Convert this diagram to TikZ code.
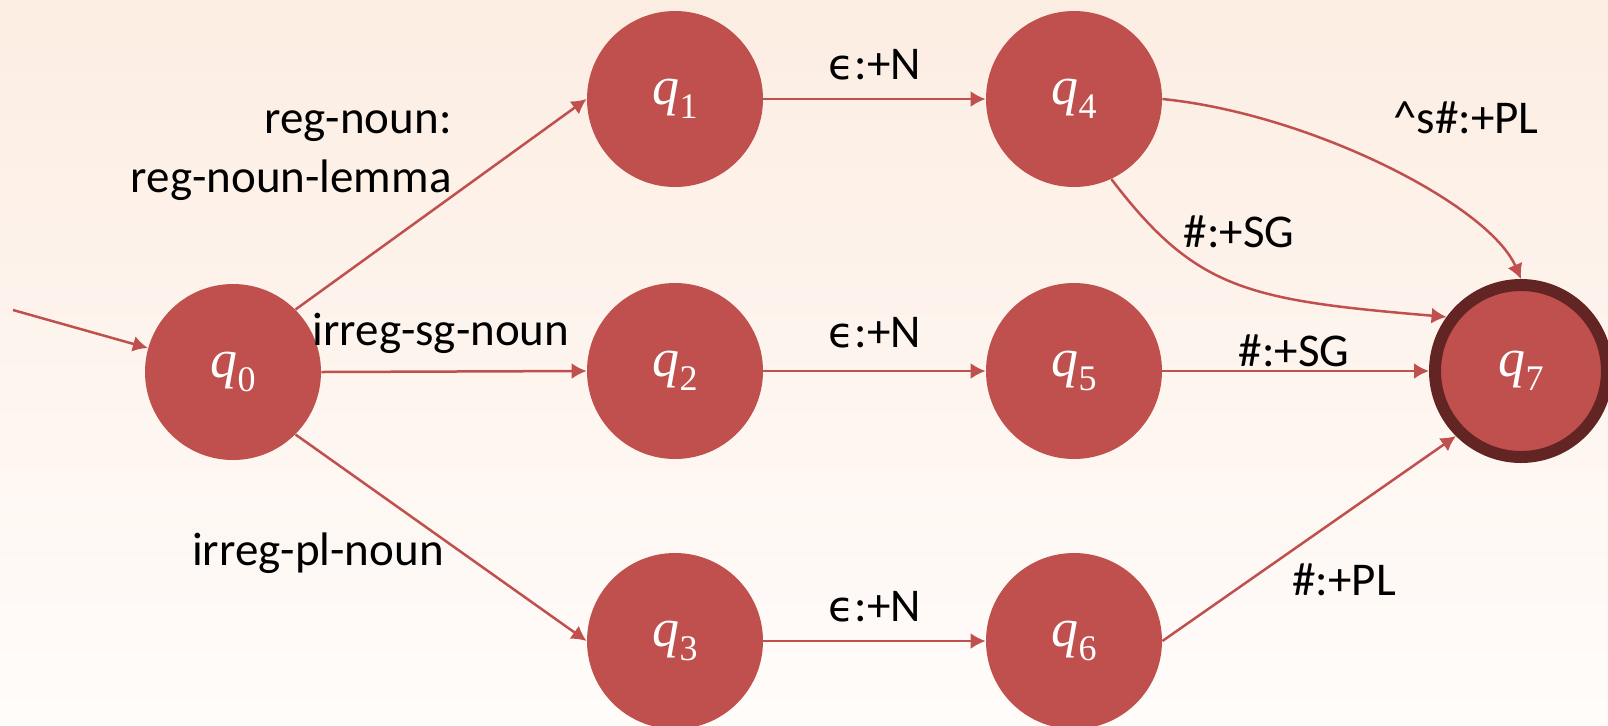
\documentclass[tikz,border=0pt]{standalone}
\usepackage{fontspec}
\setmainfont{Carlito}
\newfontfamily\qfont{Liberation Serif}
\newfontfamily\epsfont{DejaVu Sans}
\usetikzlibrary{arrows.meta}
\definecolor{nodered}{HTML}{C0504D}
\definecolor{ringred}{HTML}{632523}
\definecolor{bgtop}{HTML}{FCEDE2}
\definecolor{bgbot}{HTML}{FFFCFA}
\newcommand{\stq}[1]{{\qfont\itshape q}\raisebox{-0.25em}{\qfont\fontsize{18}{20}\selectfont #1}}
\newcommand{\eps}{{\epsfont\fontsize{21}{25}\selectfont ϵ}}
\begin{document}
\begin{tikzpicture}[x=0.5pt,y=-0.5pt,
  state/.style={circle,fill=nodered,minimum size=88pt,inner sep=0pt,text=white,font=\fontsize{27}{30}\selectfont},
  accept/.style={state,draw=ringred,line width=6pt,minimum size=86pt},
  lbl/.style={font=\fontsize{23.5}{29.5}\selectfont,text=black,inner sep=0pt},
  tr/.style={draw=nodered,line width=1.25pt,-{Latex[length=7.5pt,width=8pt]}}
]
\shade[top color=bgtop,bottom color=bgbot] (0,0) rectangle (1608,725);
\useasboundingbox (0,0) rectangle (1608,725);

\node[state] (q0) at (233,372) {\stq{0}};
\node[state] (q1) at (675,99) {\stq{1}};
\node[state] (q2) at (675,371) {\stq{2}};
\node[state] (q3) at (675,641) {\stq{3}};
\node[state] (q4) at (1074,99) {\stq{4}};
\node[state] (q5) at (1074,371) {\stq{5}};
\node[state] (q6) at (1074,641) {\stq{6}};
\node[accept] (q7) at (1521,371) {\stq{7}};

\coordinate (init) at (13,310);
\draw[tr] (init) -- (q0);
\draw[tr] (q0.45) -- (q1.west);
\draw[tr] (q0.east) -- (q2.west);
\draw[tr] (q0.-45) -- (q3.west);
\draw[tr] (q1.east) -- (q4.west);
\draw[tr] (q2.east) -- (q5.west);
\draw[tr] (q3.east) -- (q6.west);
\draw[tr] (q4.east) .. controls (1311,114) and (1489,205) .. (q7.north);
\draw[tr] (q4.-65) .. controls (1196,290) and (1247,300) .. (q7.144);
\draw[tr] (q5.east) -- (q7.west);
\draw[tr] (q6.east) -- (q7.225);

\node[lbl,align=right,anchor=east] (l01) at (452,156) {reg-noun:\\reg-noun-lemma};
\node[lbl] (l02) at (441,333) {irreg-sg-noun};
\node[lbl] (l03) at (318,553) {irreg-pl-noun};
\node[lbl] (l14) at (875,65) {\eps:+N};
\node[lbl] (l25) at (875,333) {\eps:+N};
\node[lbl] (l36) at (875,607) {\eps:+N};
\node[lbl] (l47a) at (1466,118) {\textasciicircum s\#:+PL};
\node[lbl] (l47b) at (1239,232) {\#:+SG};
\node[lbl] (l57) at (1294,351) {\#:+SG};
\node[lbl] (l67) at (1344,580) {\#:+PL};
\end{tikzpicture}
\end{document}
